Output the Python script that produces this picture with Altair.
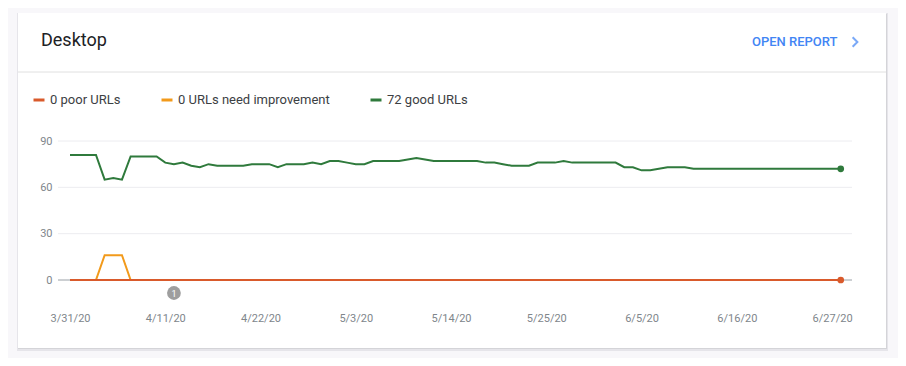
import altair as alt
import pandas as pd

# ---------------- data ----------------
dates = list(pd.date_range("2020-03-31", "2020-06-28", freq="D").strftime("%Y-%m-%d"))

good_urls = [81, 81, 81, 81, 65, 66, 65, 80, 80, 80, 80,
             76, 75, 76, 74, 73, 75, 74, 74, 74, 74,
             75, 75, 75, 73, 75, 75, 75, 76, 75, 77,
             77, 76, 75, 75, 77, 77, 77, 77, 78, 79,
             78, 77, 77, 77, 77, 77, 77, 76, 76, 75,
             74, 74, 74, 76, 76, 76, 77, 76, 76, 76, 76,
             76, 76, 73, 73, 71, 71, 72, 73, 73, 73,
             72, 72, 72, 72, 72, 72, 72, 72, 72, 72, 72, 72, 72, 72, 72, 72, 72, 72]
need_improvement = [0, 0, 0, 0, 16, 16, 16, 0, 0, 0, 0,
                    0, 0, 0, 0, 0, 0, 0, 0, 0, 0,
                    0, 0, 0, 0, 0, 0, 0, 0, 0, 0,
                    0, 0, 0, 0, 0, 0, 0, 0, 0, 0,
                    0, 0, 0, 0, 0, 0, 0, 0, 0, 0,
                    0, 0, 0, 0, 0, 0, 0, 0, 0, 0, 0,
                    0, 0, 0, 0, 0, 0, 0, 0, 0, 0,
                    0, 0, 0, 0, 0, 0, 0, 0, 0, 0, 0, 0, 0, 0, 0, 0, 0, 0]
poor_urls = [0, 0, 0, 0, 0, 0, 0, 0, 0, 0, 0,
             0, 0, 0, 0, 0, 0, 0, 0, 0, 0,
             0, 0, 0, 0, 0, 0, 0, 0, 0, 0,
             0, 0, 0, 0, 0, 0, 0, 0, 0, 0,
             0, 0, 0, 0, 0, 0, 0, 0, 0, 0,
             0, 0, 0, 0, 0, 0, 0, 0, 0, 0, 0,
             0, 0, 0, 0, 0, 0, 0, 0, 0, 0,
             0, 0, 0, 0, 0, 0, 0, 0, 0, 0, 0, 0, 0, 0, 0, 0, 0, 0]

series_names = ["0 poor URLs", "0 URLs need improvement", "72 good URLs"]
series_colors = ["#d95a2b", "#f29a1b", "#2f7a3c"]

x_tick_dates = [(2020, 3, 31), (2020, 4, 11), (2020, 4, 22), (2020, 5, 3), (2020, 5, 14),
                (2020, 5, 25), (2020, 6, 5), (2020, 6, 16), (2020, 6, 27)]
y_ticks = [0, 30, 60, 90]
grid_values = [30, 60, 90]
annotation_dates = ["2020-04-12"]
annotation_labels = ["1"]

card_title = "Desktop"
link_text = "OPEN REPORT"

# ---------------- tables ----------------
rows = []
for name, vals in [(series_names[2], good_urls), (series_names[1], need_improvement), (series_names[0], poor_urls)]:
    for i, (d, v) in enumerate(zip(dates, vals)):
        rows.append({"date": d, "series": name, "value": v, "last": i == len(dates) - 1})
df = pd.DataFrame(rows)
grid_df = pd.DataFrame({"value": grid_values})
zero_df = pd.DataFrame({"value": [0]})
ann_df = pd.DataFrame({"date": annotation_dates, "label": annotation_labels})
one = pd.DataFrame({"k": [0]})

FONT = "Roboto"
LABEL_GRAY = "#80868b"

x_scale = alt.Scale(
    type="utc",
    domain=[alt.DateTime(year=2020, month=3, date=29, hours=14, minutes=44, utc=True),
            alt.DateTime(year=2020, month=6, date=29, hours=7, minutes=12, utc=True)],
)
x_axis = alt.Axis(
    values=[alt.DateTime(year=y, month=m, date=d, utc=True) for (y, m, d) in x_tick_dates],
    labelExpr="utcFormat(datum.value, '%-m/%-d/%y')",
    title=None, grid=False, domain=False, ticks=False,
    labelFont=FONT, labelFontSize=11, labelColor=LABEL_GRAY, labelPadding=32, zindex=2,
)
y_scale = alt.Scale(domain=[0, 90], nice=False, zero=True)
y_axis = alt.Axis(values=y_ticks, title=None, grid=False, domain=False, ticks=False,
                  labelFont=FONT, labelFontSize=11, labelColor=LABEL_GRAY, labelPadding=6, zindex=2)

X = alt.X("date:T", scale=x_scale, axis=x_axis)
Y = alt.Y("value:Q", scale=y_scale, axis=y_axis)
COLOR = alt.Color(
    "series:N",
    scale=alt.Scale(domain=series_names, range=series_colors),
    legend=alt.Legend(
        title=None, orient="none", legendX=-26, legendY=-48, direction="horizontal",
        symbolType="stroke", symbolStrokeWidth=3, symbolSize=121,
        labelFont=FONT, labelFontSize=13, labelColor="#3c4043", labelOffset=4,
        columnPadding=34, padding=0, zindex=2,
    ),
)

# ---------------- card decoration ----------------
shadow2 = alt.Chart(one).mark_rect(fill="#e6e5ea").encode(
    x=alt.value(-41), x2=alt.value(830), y=alt.value(-128), y2=alt.value(210))
shadow1 = alt.Chart(one).mark_rect(fill="#d4d4d8").encode(
    x=alt.value(-40), x2=alt.value(829), y=alt.value(-127), y2=alt.value(208))
card = alt.Chart(one).mark_rect(fill="white").encode(
    x=alt.value(-40), x2=alt.value(828), y=alt.value(-128), y2=alt.value(207))
divider = alt.Chart(one).mark_rule(color="#e0e0e0", strokeWidth=1).encode(
    x=alt.value(-40), x2=alt.value(828), y=alt.value(-69))
title = alt.Chart(one).mark_text(text=card_title, align="left", baseline="middle",
                                 font=FONT, fontSize=18, color="#202124").encode(
    x=alt.value(-17), y=alt.value(-100))
link = alt.Chart(one).mark_text(text=link_text, align="left", baseline="middle",
                                font=FONT, fontSize=13, fontWeight=500, color="#4285f4").encode(
    x=alt.value(694), y=alt.value(-99))
chevron = alt.Chart(one).mark_point(shape="M-0.5,-1L0.5,0L-0.5,1", filled=False,
                                    stroke="#4285f4", strokeWidth=2, size=90).encode(
    x=alt.value(797), y=alt.value(-99))

# ---------------- chart body ----------------
grid = alt.Chart(grid_df).mark_rule(color="#ececf0", strokeWidth=1).encode(y=Y)
zero_line = alt.Chart(zero_df).mark_rule(color="#9aa0a6", strokeWidth=1).encode(y=Y)

line_layers = []
for name in [series_names[2], series_names[1], series_names[0]]:
    line_layers.append(
        alt.Chart(df).transform_filter(alt.datum.series == name)
        .mark_line(strokeWidth=2, interpolate="linear")
        .encode(x=X, y=Y, color=COLOR)
    )

end_points = alt.Chart(df).transform_filter(
    (alt.datum.last == True) & (alt.datum.series != series_names[1])
).mark_circle(size=45, opacity=1).encode(x=X, y=Y, color=COLOR)

ann_circle = alt.Chart(ann_df).mark_circle(size=190, color="#9e9e9e", opacity=1).encode(
    x=X, y=alt.value(152))
ann_text = alt.Chart(ann_df).mark_text(font=FONT, fontSize=9, color="white", baseline="middle").encode(
    x=X, y=alt.value(152.5), text="label:N")

chart = alt.layer(
    shadow2, shadow1, card, divider, title, link, chevron,
    grid, zero_line, *line_layers, end_points, ann_circle, ann_text,
).properties(
    width=794, height=139,
    autosize=alt.AutoSizeParams(type="none"),
    padding={"left": 50, "top": 133, "right": 46, "bottom": 78},
    background="#f8f7fa",
).configure_view(stroke=None)

chart.save("out.html", embed_options={"renderer": "svg", "actions": False})
